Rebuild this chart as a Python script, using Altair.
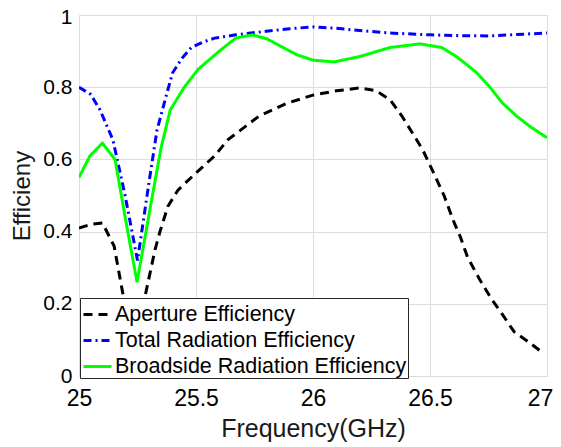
import altair as alt
import pandas as pd

# ---- data ----
freq_ap = [25.0, 25.05, 25.1, 25.15, 25.167, 25.184, 25.21, 25.24, 25.282, 25.325, 25.346,
           25.38, 25.423, 25.496, 25.58, 25.637, 25.77, 25.89, 26.0, 26.1, 26.2, 26.27,
           26.33, 26.38, 26.43, 26.47, 26.51, 26.56, 26.6, 26.63, 26.66, 26.71, 26.76,
           26.81, 26.86, 26.92, 26.97]
ap = [0.41, 0.42, 0.424, 0.36, 0.30, 0.24, 0.15, 0.12, 0.22, 0.35, 0.40,
      0.47, 0.515, 0.56, 0.61, 0.655, 0.72, 0.756, 0.778, 0.79, 0.798, 0.79,
      0.765, 0.72, 0.668, 0.625, 0.57, 0.50, 0.43, 0.385, 0.33, 0.27, 0.216,
      0.17, 0.122, 0.095, 0.07]

freq_tot = [25.0, 25.05, 25.09, 25.145, 25.197, 25.25, 25.3, 25.333, 25.37, 25.40, 25.44,
            25.48, 25.53, 25.58, 25.67, 25.8, 25.9, 26.0, 26.1, 26.2, 26.33, 26.5,
            26.6, 26.76, 26.9, 27.0]
tot = [0.80, 0.78, 0.737, 0.654, 0.50, 0.32, 0.54, 0.68, 0.77, 0.84, 0.88,
       0.91, 0.925, 0.936, 0.945, 0.955, 0.962, 0.967, 0.963, 0.957, 0.95, 0.945,
       0.943, 0.942, 0.947, 0.95]

freq_br = [25.0, 25.047, 25.1, 25.154, 25.2, 25.248, 25.3, 25.35, 25.39, 25.45, 25.51,
           25.6, 25.67, 25.74, 25.8, 25.93, 26.0, 26.09, 26.2, 26.33, 26.457, 26.55,
           26.615, 26.70, 26.756, 26.81, 26.87, 26.93, 27.0]
br = [0.55, 0.61, 0.645, 0.60, 0.43, 0.26, 0.45, 0.63, 0.737, 0.80, 0.85,
      0.90, 0.936, 0.945, 0.935, 0.89, 0.875, 0.87, 0.885, 0.91, 0.92, 0.91,
      0.884, 0.84, 0.80, 0.756, 0.72, 0.69, 0.66]

series_names = ["Aperture Efficiency", "Total Radiation Efficiency",
                "Broadside Radiation Efficiency"]
x_ticks = [25, 25.5, 26, 26.5, 27]
y_ticks = [0, 0.2, 0.4, 0.6, 0.8, 1]

rows = []
for name, fs, vs in zip(series_names, [freq_ap, freq_tot, freq_br], [ap, tot, br]):
    for i, (f, v) in enumerate(zip(fs, vs)):
        rows.append({"series": name, "f": f, "v": v, "i": i})
df = pd.DataFrame(rows)

FONT = "Liberation Sans"
TXT = "#1a1a1a"

legend_cfg = dict(title=None, orient="none", legendX=1, legendY=283,
                  symbolType="stroke", symbolStrokeWidth=3,
                  symbolSize=784, labelFontSize=21.5, labelLimit=500,
                  labelFont=FONT, labelColor="#000000",
                  strokeColor="#262626", fillColor="#ffffff",
                  padding=1, rowPadding=-2, labelOffset=2, symbolOffset=1)

chart = alt.Chart(df).mark_line(strokeWidth=3, clip=True).encode(
    x=alt.X("f:Q", scale=alt.Scale(domain=[25, 27], nice=False),
            axis=alt.Axis(values=x_ticks, format="~g", title="Frequency(GHz)",
                          titleY=52, titleBaseline="middle", titleX=234,
                          titleFontSize=25, titleFont=FONT, titleColor=TXT,
                          titleFontWeight="normal", labelFlush=False,
                          labelOffset={"expr": "datum.value == 27 ? -7 : 0"},
                          labelFontSize=23, labelPadding=11, ticks=False,
                          domain=False)),
    y=alt.Y("v:Q", scale=alt.Scale(domain=[0, 1], nice=False),
            axis=alt.Axis(values=y_ticks, format="~g", title="Efficieny",
                          titleX=-57, titleY=180.5, titleBaseline="middle",
                          titleAlign="center", labelFlush=False,
                          labelOffset={"expr": "datum.value == 1 ? 2.5 : 0"},
                          titleFontSize=24, titleFont=FONT, titleColor=TXT,
                          titleFontWeight="normal",
                          labelFontSize=21, labelPadding=7, ticks=False,
                          domain=False)),
    color=alt.Color("series:N",
                    scale=alt.Scale(domain=series_names,
                                    range=["#000000", "#0000ff", "#00ff00"]),
                    legend=alt.Legend(**legend_cfg)),
    strokeDash=alt.StrokeDash("series:N",
                              scale=alt.Scale(domain=series_names,
                                              range=[[9, 6], [8, 4, 2, 4], [1, 0]]),
                              legend=alt.Legend(**legend_cfg)),
    order="i:Q",
).properties(
    width=468, height=361,
    padding={"left": 71, "top": 7, "right": 6, "bottom": 72},
    autosize=alt.AutoSizeParams(type="none"),
).configure_view(
    stroke="#666666", strokeWidth=1
).configure_axis(
    gridColor="#e3e3e3", gridWidth=1, labelFont=FONT, titleFont=FONT,
    labelColor=TXT, titleColor=TXT
).configure(background="#ffffff")

chart.save("out.html", embed_options={"renderer": "svg", "actions": False})
